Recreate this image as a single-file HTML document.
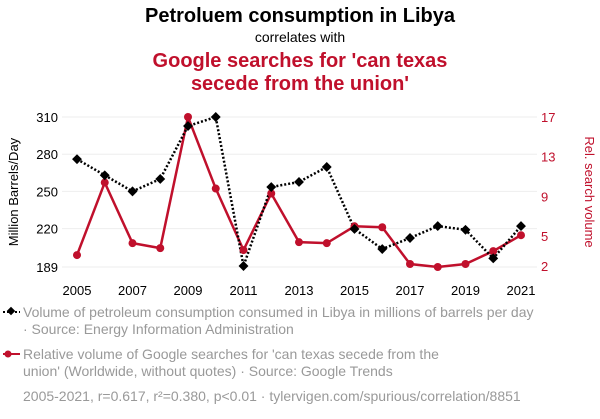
<!DOCTYPE html>
<html><head><meta charset="utf-8"><style>
body{margin:0;background:#fff;width:600px;height:414px;overflow:hidden;font-family:"Liberation Sans",sans-serif}
</style></head><body>
<svg width="600" height="414" xmlns="http://www.w3.org/2000/svg" font-family="Liberation Sans, sans-serif">
<text x="300" y="22" text-anchor="middle" font-size="20" font-weight="bold" fill="#000">Petroluem consumption in Libya</text>
<text x="300" y="42" text-anchor="middle" font-size="14" fill="#000">correlates with</text>
<text x="300" y="67" text-anchor="middle" font-size="20" font-weight="bold" fill="#c0102c">Google searches for 'can texas</text>
<text x="300" y="90" text-anchor="middle" font-size="20" font-weight="bold" fill="#c0102c">secede from the union'</text>
<g id="grid"></g><g id="axes"></g><g id="series"></g>
<text transform="translate(18,192) rotate(-90)" text-anchor="middle" font-size="13" fill="#000">Million Barrels/Day</text>
<text transform="translate(585,192) rotate(90)" text-anchor="middle" font-size="13" fill="#c0102c">Rel. search volume</text>
<g>
<line x1="3" y1="312" x2="20" y2="312" stroke="#000" stroke-width="2" stroke-dasharray="2,2"/>
<rect x="8" y="308" width="6" height="6" transform="rotate(45 11 311)" fill="#000"/>
<text x="23" y="317" font-size="14" fill="#999">Volume of petroleum consumption consumed in Libya in millions of barrels per day</text>
<text x="23" y="334" font-size="14" fill="#999">· Source: Energy Information Administration</text></g>
<g>
<line x1="3" y1="354" x2="20" y2="354" stroke="#c0102c" stroke-width="2"/>
<circle cx="8" cy="354" r="3.5" fill="#c0102c"/>
<text x="23" y="359" font-size="14" fill="#999">Relative volume of Google searches for 'can texas secede from the</text>
<text x="23" y="376" font-size="14" fill="#999">union' (Worldwide, without quotes) · Source: Google Trends</text></g>
<text x="23" y="401" font-size="14" fill="#999">2005-2021, r=0.617, r²=0.380, p&lt;0.01 · tylervigen.com/spurious/correlation/8851</text>
</svg>
<script>
const years=[2005,2006,2007,2008,2009,2010,2011,2012,2013,2014,2015,2016,2017,2018,2019,2020,2021];
const petroleum=[276,263,250,260,302.7,310,189.8,253.5,257.6,269.7,219.7,203.5,212.4,222,219,196,222];
const searches=[3.1,10.4,4.3,3.8,17,9.8,3.6,9.3,4.4,4.3,6.0,5.9,2.2,1.9,2.2,3.5,5.1];
const leftTicks=[189,220,250,280,310];
const rightTicks=[2,5,9,13,17];
const xTicks=[2005,2007,2009,2011,2013,2015,2017,2019,2021];
const NS="http://www.w3.org/2000/svg";
const x=v=>77+(v-2005)*(521-77)/16;
const yL=v=>267-(v-189)*(267-117)/(310-189);
const yR=v=>266-(v-2)*(266-117)/15;
function mk(t,a,p){const e=document.createElementNS(NS,t);for(const k in a)e.setAttribute(k,a[k]);p.appendChild(e);return e;}
const grid=document.getElementById('grid'),axes=document.getElementById('axes'),ser=document.getElementById('series');
leftTicks.forEach(v=>{
const g=mk('line',{x1:62,x2:537,y1:yL(v),y2:yL(v),stroke:'#eee','stroke-width':1},grid);


const t=mk('text',{x:58,y:yL(v)+5,'text-anchor':'end','font-size':13,fill:'#000'},axes);t.textContent=v;


});
rightTicks.forEach(v=>{
const t=mk('text',{x:541,y:yR(v)+5,'font-size':13,fill:'#c0102c'},axes);t.textContent=v;


});
xTicks.forEach(v=>{
const t=mk('text',{x:x(v),y:295,'text-anchor':'middle','font-size':13,fill:'#000'},axes);t.textContent=v;


});
const rl=mk('polyline',{points:years.map((y,i)=>x(y)+','+yR(searches[i])).join(' '),fill:'none',stroke:'#c0102c','stroke-width':2.5},ser);


const bl=mk('polyline',{points:years.map((y,i)=>x(y)+','+yL(petroleum[i])).join(' '),fill:'none',stroke:'#000','stroke-width':2.5,'stroke-dasharray':'2,2'},ser);


years.forEach((y,i)=>{
const c=mk('circle',{cx:x(y),cy:yR(searches[i]),r:4,fill:'#c0102c'},ser);


const px=x(y),py=yL(petroleum[i]);
const r=mk('rect',{x:px-3.5,y:py-3.5,width:7,height:7,fill:'#000',transform:`rotate(45 ${px} ${py})`},ser);


});
</script>
</body></html>
